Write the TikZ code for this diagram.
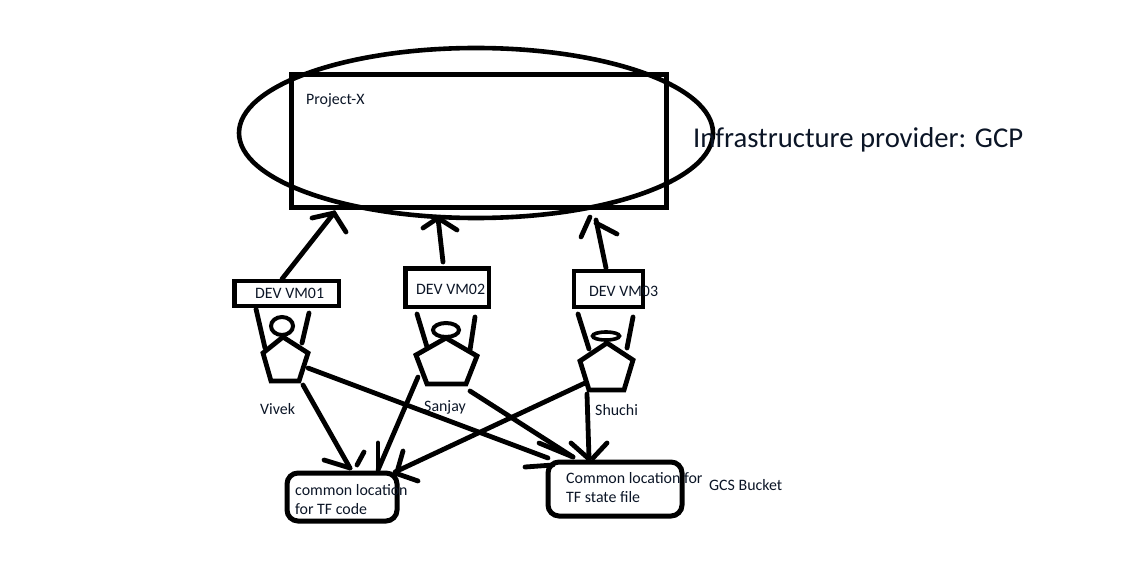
\documentclass[tikz,border=0pt]{standalone}
\usepackage{fontspec}
\setmainfont{Carlito}
\usetikzlibrary{shapes.geometric}
\definecolor{textink}{HTML}{0B1526}
\tikzset{
  ink/.style={draw=black,line width=4.8pt,line cap=round,line join=miter},
  provider/.style={draw=black,line width=4.6pt,ellipse,inner sep=0pt,minimum width=474pt,minimum height=170pt},
  projectbox/.style={draw=black,line width=5pt,inner sep=0pt,minimum width=375pt,minimum height=133pt},
  vmbox/.style={draw=black,line width=4.8pt,inner sep=0pt},
  storebox/.style={draw=black,line width=5pt,inner sep=0pt,rounded corners=11pt},
  lbl/.style={inner sep=0pt,anchor=base west,text=textink,font=\fontsize{15.9}{19}\selectfont},
  lbltwo/.style={inner sep=0pt,anchor=west,align=left,text=textink,font=\fontsize{15.9}{19}\selectfont},
  titlelbl/.style={inner sep=0pt,anchor=base west,text=textink,font=\fontsize{28.7}{32}\selectfont}
}
\begin{document}
\begin{tikzpicture}[x=1pt,y=-1pt]
\useasboundingbox (0,0) rectangle (1131,572);
% provider and project
\node[provider] (gcp) at (476,133) {};
\node[projectbox] (projx) at (479,141) {};
\node[lbl] (projlbl) at (306,105) {Project-X};
\node[titlelbl] (gcplbl) at (693,148) {Infrastructure provider: GCP};
% VMs
\node[vmbox,minimum width=104.5pt,minimum height=25pt] (vm1) at (286.75,293.5) {};
\node[vmbox,minimum width=83.5pt,minimum height=38.5pt] (vm2) at (447.25,287.75) {};
\node[vmbox,minimum width=69pt,minimum height=36pt] (vm3) at (608.5,289) {};
\node[lbl] (vm1lbl) at (255,298) {DEV VM01};
\node[lbl] (vm2lbl) at (416,294) {DEV VM02};
\node[lbl] (vm3lbl) at (589,296) {DEV VM03};
% people: heads
\node[draw=black,line width=4pt,ellipse,inner sep=0pt,minimum width=22pt,minimum height=18pt] (h1) at (282,326) {};
\node[draw=black,line width=4pt,ellipse,inner sep=0pt,minimum width=26pt,minimum height=14pt] (h2) at (446,330) {};
\node[draw=black,line width=3.6pt,ellipse,inner sep=0pt,minimum width=27pt,minimum height=8pt] (h3) at (606,336) {};
% people: bodies and arms
\draw[ink,line cap=butt,line join=miter] (283,337) -- (308,353) -- (299,381) -- (271,381) -- (263,353) -- cycle;
\draw[ink,line cap=butt,line join=miter] (446,338) -- (477,356) -- (466,384) -- (427,384) -- (416,355) -- cycle;
\draw[ink,line cap=butt,line join=miter] (607,343) -- (633,360) -- (624,390) -- (589,390) -- (580,361) -- cycle;
\draw[ink] (256,309) -- (265,348);
\draw[ink] (309,313) -- (302,343);
\draw[ink] (417,314) -- (427,347);
\draw[ink] (475,317) -- (470,350);
\draw[ink] (578,314) -- (589,349);
\draw[ink] (633,317) -- (627,348);
\node[lbl] (vivek) at (260,414) {Vivek};
\node[lbl] (sanjay) at (424,411) {Sanjay};
\node[lbl] (shuchi) at (595,415) {Shuchi};
% stores
\node[storebox,minimum width=110pt,minimum height=48pt] (code) at (342,497) {};
\node[storebox,minimum width=134pt,minimum height=54pt] (state) at (615,489) {};
\node[lbltwo] (codelbl) at (295,499.5) {common location\\for TF code};
\node[lbltwo] (statelbl) at (566,487.5) {Common location for\\TF state file};
\node[lbl] (gcs) at (709,490) {GCS Bucket};
% free ends
\coordinate (a1s) at (282,279); \coordinate (a1e) at (334,213);
\coordinate (a2s) at (443,262); \coordinate (a2e) at (438,218);
\coordinate (a3s) at (606,268); \coordinate (a3e) at (596,220);
\coordinate (c1s) at (303,385); \coordinate (c1e) at (350,468);
\coordinate (c2s) at (418,377); \coordinate (c2e) at (378,470);
\coordinate (c3s) at (585,383); \coordinate (c3e) at (395,472);
\coordinate (s1s) at (308,368); \coordinate (s1e) at (548,458);
\coordinate (s2s) at (470,391); \coordinate (s2e) at (573,457);
\coordinate (s3s) at (587,394); \coordinate (s3e) at (589,458);
% connectors to the project
\draw[ink] (a1s) -- (a1e);
\draw[ink] (312,218) -- (a1e) -- (346,232);
\draw[ink] (a2s) -- (a2e);
\draw[ink] (423,228) -- (a2e) -- (457,230);
\draw[ink] (a3s) -- (a3e);
\draw[ink] (581,237) -- (590,217);
\draw[ink] (617,234) -- (596,223);
% connectors to code
\draw[ink] (c1s) -- (c1e);
\draw[ink] (324,460) -- (c1e);
\draw[ink] (364,452) -- (357,465);
\draw[ink] (c2s) -- (c2e);
\draw[ink] (378,443) -- (378,468);
\draw[ink] (c3s) -- (c3e);
\draw[ink] (403,451) -- (397,472);
\draw[ink] (418,481) -- (395,473);
% connectors to state
\draw[ink] (s1s) -- (s1e);
\draw[ink] (525,467) -- (553,465);
\draw[ink] (s2s) -- (s2e);
\draw[ink] (539,443) -- (s2e);
\draw[ink] (s3s) -- (s3e);
\draw[ink] (571,443) -- (589,459);
\draw[ink] (607,443) -- (593,458);
\end{tikzpicture}
\end{document}
